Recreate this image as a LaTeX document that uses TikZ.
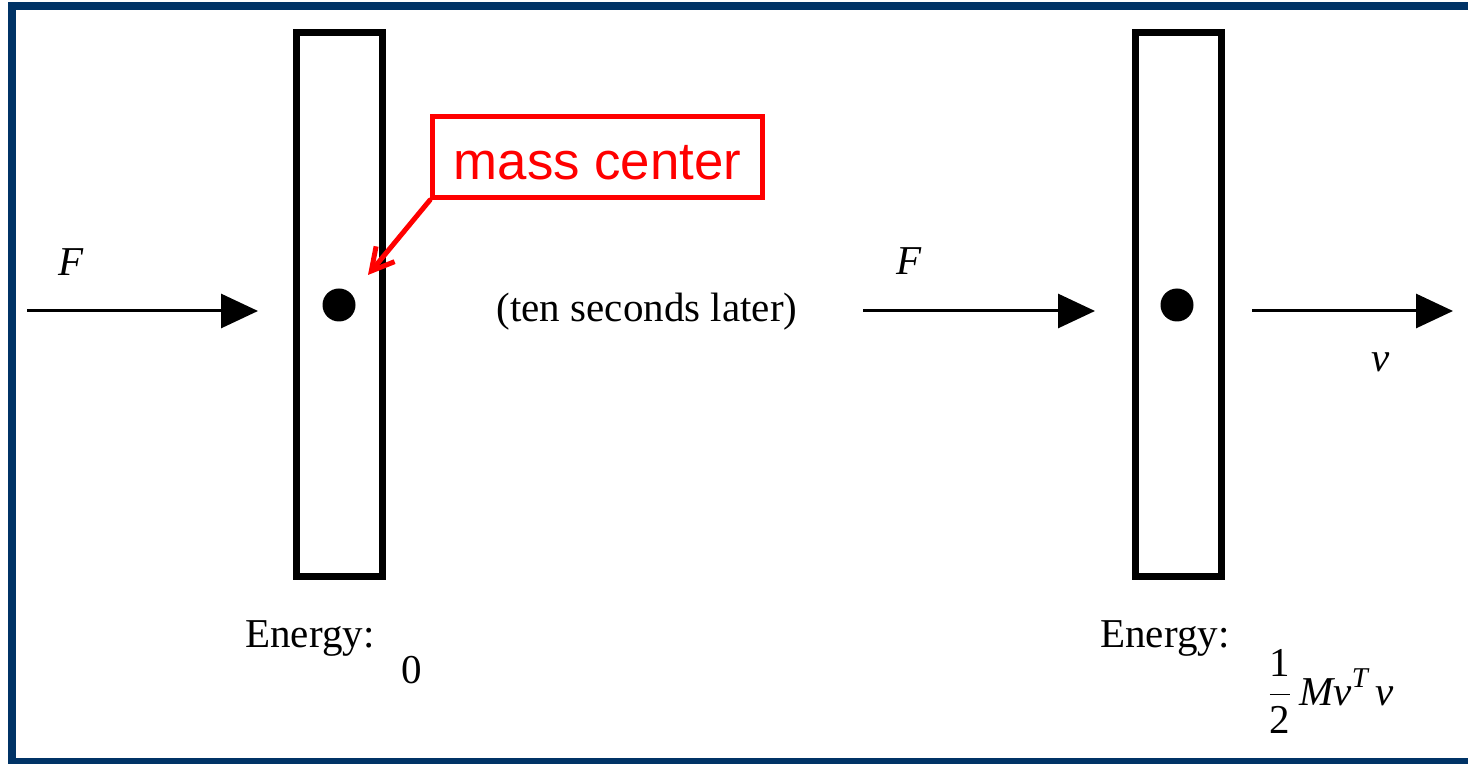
\documentclass[tikz,border=0pt]{standalone}
\usepackage{fontspec}
\setmainfont{Liberation Serif}
\newfontfamily\calloutfont{Liberation Sans}
\usepackage{tikz}
\usetikzlibrary{arrows.meta}
\definecolor{framecol}{RGB}{0,51,102}

\begin{document}
\begin{tikzpicture}[x=0.5pt, y=-0.5pt,
        body/.style={draw, rectangle, line width=3.5pt, minimum width=43pt, minimum height=272pt, inner sep=0pt},
        dot/.style={circle, fill=black, minimum size=16.5pt, inner sep=0pt},
        force/.style={-{Triangle[length=18.5pt, width=17pt]}, line width=1.5pt},
        txt/.style={inner sep=0pt, font=\fontsize{20.5}{24}\selectfont},
        callout/.style={draw=red, line width=2.5pt, text=red, minimum width=165pt, minimum height=40.5pt, inner sep=0pt, text height=23pt, font=\calloutfont\fontsize{26.4}{30}\selectfont},
        pointer/.style={-{Straight Barb[length=11pt, width=12pt]}, draw=red, line width=2.5pt, line cap=round}
    ]
        \useasboundingbox (0,0) rectangle (1468,764);
        \draw[framecol, line width=4pt] (12,6) rectangle (1500,762);

        % Before
        \node[body] (bodyL) at (339.5,304.5) {};
        \node[dot] (dotL) at (339,305) {};
        \coordinate (forceL0) at (27,311);
        \coordinate (forceL1) at (258,311);
        \draw[force] (forceL0) -- (forceL1);
        \node[txt, anchor=base] (FL) at (71,276) {\textit{F}};

        \node[txt, anchor=base west] (energyL) at (245,647) {Energy:};
        \node[txt, anchor=base] (zeroL) at (412,683) {0};

        % Callout
        \node[callout] (mc) at (597.5,157) {mass center};
        \coordinate (mcTip) at (368,275);
        \draw[pointer] (mc.south west) -- (mcTip);

        \node[txt, anchor=base] (later) at (647,322) {(ten seconds later)};

        % After
        \node[body] (bodyR) at (1178,304.5) {};
        \node[dot] (dotR) at (1177,305) {};
        \coordinate (forceR0) at (863,311);
        \coordinate (forceR1) at (1095,311);
        \draw[force] (forceR0) -- (forceR1);
        \node[txt, anchor=base] (FR) at (909,275) {\textit{F}};

        \coordinate (velR0) at (1252,311);
        \coordinate (velR1) at (1453,311);
        \draw[force] (velR0) -- (velR1);
        \node[txt, anchor=base] (vR) at (1381,372) {\textit{v}};

        \node[txt, anchor=base west] (energyR) at (1100,647) {Energy:};
        \node[txt, anchor=base west] (kinR) at (1267,705) {$\displaystyle\frac{\mathrm{1}}{\mathrm{2}}\,\mathit{Mv}^{\mathit{T}}\,\mathit{v}$};
    \end{tikzpicture}
\end{document}
